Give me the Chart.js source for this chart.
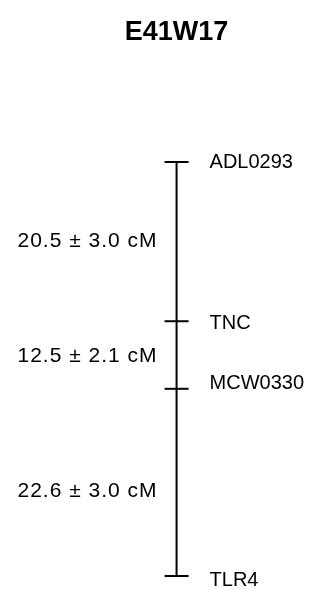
<!DOCTYPE html>
<html>
<head>
<meta charset="utf-8">
<script src="https://cdn.jsdelivr.net/npm/chart.js@4/dist/chart.umd.min.js"></script>
<style>
html,body{margin:0;padding:0;background:#fff;}
#c{display:block;}
</style>
</head>
<body>
<canvas id="c" width="323" height="590"></canvas>
<script>
// ---- data ----
const title = 'E41W17';
const markers = ['ADL0293', 'TNC', 'MCW0330', 'TLR4'];
const mapPositions = [0, 20.5, 29.2, 53.3];      // drawn positions along the map
const intervalCM = [20.5, 12.5, 22.6];
const intervalSE = [3.0, 2.1, 3.0];

// ---- styling ----
const FONT = '"Liberation Sans", Arial, Helvetica, sans-serif';
const labelNudge = [0, 2, -5, 4];     // vertical nudge of marker labels (px)
const intervalNudge = [0, 1, 9];      // vertical nudge of interval labels (px)

const intervalLabels = intervalCM.map((v, i) => v.toFixed(1) + ' \u00B1 ' + intervalSE[i].toFixed(1) + ' cM');

const labelPlugin = {
  id: 'mapLabels',
  afterDatasetsDraw(chart) {
    const ctx = chart.ctx;
    const xs = chart.scales.x, ys = chart.scales.y;
    const x0 = xs.getPixelForValue(0);
    ctx.save();
    ctx.fillStyle = '#000';
    // title, centred over the map line
    ctx.textBaseline = 'middle';
    ctx.textAlign = 'center';
    ctx.font = 'bold 27px ' + FONT;
    ctx.fillText(title, x0, 33);
    // marker names
    ctx.font = '20px ' + FONT;
    ctx.letterSpacing = '0px';
    ctx.textAlign = 'left';
    markers.forEach((m, i) => {
      ctx.fillText(m, x0 + 33, ys.getPixelForValue(mapPositions[i]) + labelNudge[i]);
    });
    // interval distances
    ctx.font = '21px ' + FONT;
    ctx.letterSpacing = '1px';
    ctx.textAlign = 'right';
    intervalLabels.forEach((t, i) => {
      const ym = (ys.getPixelForValue(mapPositions[i]) + ys.getPixelForValue(mapPositions[i + 1])) / 2;
      ctx.fillText(t, x0 - 19, ym + intervalNudge[i]);
    });
    ctx.restore();
  }
};

new Chart(document.getElementById('c'), {
  type: 'scatter',
  data: {
    datasets: [
      {
        data: [{x: 0, y: mapPositions[0]}, {x: 0, y: mapPositions[mapPositions.length - 1]}],
        showLine: true,
        borderColor: '#000',
        borderWidth: 2,
        pointRadius: 0,
        clip: false
      },
      {
        data: mapPositions.map(p => ({x: 0, y: p})),
        showLine: false,
        pointStyle: 'line',
        pointRadius: 12,
        borderColor: '#000',
        backgroundColor: '#000',
        pointBorderWidth: 2,
        borderWidth: 2,
        clip: false
      }
    ]
  },
  options: {
    responsive: false,
    animation: false,
    devicePixelRatio: 1,
    layout: {padding: {top: 162, bottom: 10, left: 0, right: 0}},
    scales: {
      x: {display: false, min: -178, max: 145},
      y: {display: false, reverse: true, min: mapPositions[0], max: mapPositions[mapPositions.length - 1]}
    },
    plugins: {
      legend: {display: false},
      tooltip: {enabled: false},
      title: {display: false}
    }
  },
  plugins: [labelPlugin]
});
</script>
</body>
</html>
